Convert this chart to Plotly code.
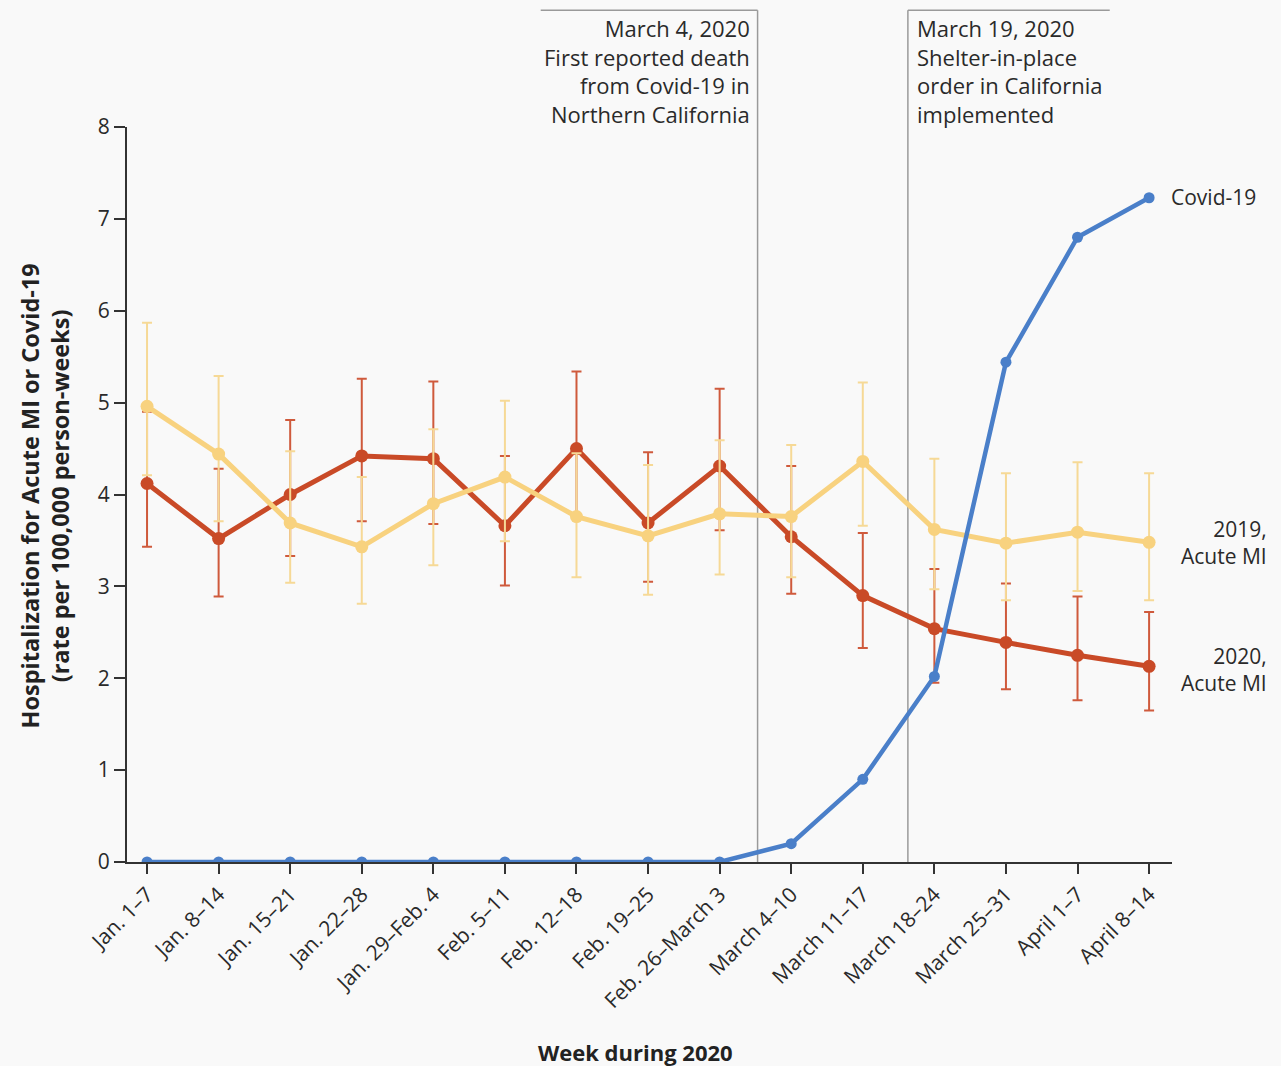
import plotly.graph_objects as go

weeks = ["Jan. 1–7", "Jan. 8–14", "Jan. 15–21", "Jan. 22–28", "Jan. 29–Feb. 4",
         "Feb. 5–11", "Feb. 12–18", "Feb. 19–25", "Feb. 26–March 3", "March 4–10",
         "March 11–17", "March 18–24", "March 25–31", "April 1–7", "April 8–14"]

covid_2020 = [0, 0, 0, 0, 0, 0, 0, 0, 0, 0.20, 0.90, 2.02, 5.44, 6.80, 7.23]

mi_2020 = [4.12, 3.52, 4.00, 4.42, 4.39, 3.66, 4.50, 3.69, 4.31, 3.54, 2.90, 2.54, 2.39, 2.25, 2.13]
mi_2020_upper = [4.90, 4.28, 4.81, 5.26, 5.23, 4.42, 5.34, 4.46, 5.15, 4.31, 3.58, 3.19, 3.03, 2.89, 2.72]
mi_2020_lower = [3.43, 2.89, 3.33, 3.71, 3.68, 3.01, 3.76, 3.05, 3.61, 2.92, 2.33, 1.95, 1.88, 1.76, 1.65]

mi_2019 = [4.96, 4.44, 3.69, 3.43, 3.90, 4.19, 3.76, 3.55, 3.79, 3.76, 4.36, 3.62, 3.47, 3.59, 3.48]
mi_2019_upper = [5.87, 5.29, 4.47, 4.19, 4.71, 5.02, 4.45, 4.32, 4.59, 4.54, 5.22, 4.39, 4.23, 4.35, 4.23]
mi_2019_lower = [4.21, 3.71, 3.04, 2.81, 3.23, 3.49, 3.10, 2.91, 3.13, 3.10, 3.66, 2.97, 2.85, 2.95, 2.85]

events = [
    {"x": 8.53, "box_from": 5.50, "side": "right",
     "text": "March 4, 2020<br>First reported death<br>from Covid-19 in<br>Northern California"},
    {"x": 10.63, "box_to": 13.45, "side": "left",
     "text": "March 19, 2020<br>Shelter-in-place<br>order in California<br>implemented"},
]

RED = "#c94a27"
RED_BAR = "#cf5a3c"
YELLOW = "#f8d27f"
YELLOW_BAR = "#f6d996"
BLUE = "#4a7fc9"
FONT = "'Open Sans', 'Noto Sans', sans-serif"
TXT = "#2a2a2a"
BG = "#f9f9f9"

idx = list(range(len(weeks)))

def err(values, upper, lower):
    plus = [round(u - v, 3) for u, v in zip(upper, values)]
    minus = [round(v - l, 3) for v, l in zip(values, lower)]
    return plus, minus

fig = go.Figure()

p20, m20 = err(mi_2020, mi_2020_upper, mi_2020_lower)
fig.add_trace(go.Scatter(
    x=idx, y=mi_2020, mode="lines+markers", name="2020, Acute MI",
    line=dict(color=RED, width=5), marker=dict(color=RED, size=13),
    error_y=dict(type="data", array=p20, arrayminus=m20, color=RED_BAR, thickness=2, width=5),
))

p19, m19 = err(mi_2019, mi_2019_upper, mi_2019_lower)
fig.add_trace(go.Scatter(
    x=idx, y=mi_2019, mode="lines+markers", name="2019, Acute MI",
    line=dict(color=YELLOW, width=5), marker=dict(color=YELLOW, size=13),
    error_y=dict(type="data", array=p19, arrayminus=m19, color=YELLOW_BAR, thickness=2, width=5),
))

fig.add_trace(go.Scatter(
    x=idx, y=covid_2020, mode="lines+markers", name="Covid-19",
    line=dict(color=BLUE, width=4.5), marker=dict(color=BLUE, size=11),
))

# event markers: vertical rule down to the axis and a bracket along the top
paper_top = 1.159
for ev in events:
    fig.add_shape(type="line", xref="x", yref="paper", x0=ev["x"], x1=ev["x"],
                  y0=0, y1=paper_top, line=dict(color="#9a9a9a", width=1.5), layer="below")
    if ev["side"] == "right":
        x0, x1 = ev["box_from"], ev["x"]
        xanchor, align, xshift = "right", "right", -6
    else:
        x0, x1 = ev["x"], ev["box_to"]
        xanchor, align, xshift = "left", "left", 7
    fig.add_shape(type="line", xref="x", yref="paper", x0=x0, x1=x1,
                  y0=paper_top, y1=paper_top, line=dict(color="#9a9a9a", width=1.5))
    fig.add_annotation(x=ev["x"], y=paper_top, xref="x", yref="paper", text=ev["text"],
                       showarrow=False, xanchor=xanchor, yanchor="top", align=align,
                       xshift=xshift, yshift=-1,
                       font=dict(family=FONT, size=22, color=TXT))

# series labels at the right end of the lines
last = len(weeks) - 1
fig.add_annotation(x=last, y=covid_2020[-1], xref="x", yref="y", text="Covid-19",
                   showarrow=False, xanchor="left", xshift=20, yshift=1,
                   font=dict(family=FONT, size=21, color=TXT))
fig.add_annotation(x=1.0, y=mi_2019[-1], xref="paper", yref="y", text="2019,<br>Acute MI",
                   showarrow=False, xanchor="right", align="right", xshift=97, yshift=0,
                   font=dict(family=FONT, size=21, color=TXT))
fig.add_annotation(x=1.0, y=mi_2020[-1], xref="paper", yref="y", text="2020,<br>Acute MI",
                   showarrow=False, xanchor="right", align="right", xshift=97, yshift=-3,
                   font=dict(family=FONT, size=21, color=TXT))

# y-axis title
fig.add_annotation(x=0, y=0.5, xref="paper", yref="paper", xanchor="center", yanchor="middle",
                   xshift=-82, yshift=-2, textangle=-90, showarrow=False,
                   text="<b>Hospitalization for Acute MI or Covid-19<br>(rate per 100,000 person-weeks)</b>",
                   font=dict(family=FONT, size=23.5, color="#222222"))

# x-axis title
fig.add_annotation(x=635, y=1052, xref="paper", yref="paper", showarrow=False,
                   text="<b>Week during 2020</b>",
                   font=dict(family=FONT, size=22, color="#222222"))

fig.update_layout(
    width=1281, height=1066,
    margin=dict(l=127, r=109, t=127, b=204),
    paper_bgcolor=BG, plot_bgcolor=BG,
    showlegend=False,
    font=dict(family=FONT, size=21, color=TXT),
    xaxis=dict(
        range=[-0.28, 14.32], tickmode="array", tickvals=idx, ticktext=weeks,
        tickangle=-45, ticks="outside", ticklen=10, tickwidth=1.5, tickcolor="#333333",
        showline=True, linecolor="#333333", linewidth=2, showgrid=False, zeroline=False,
        tickfont=dict(family=FONT, size=21, color=TXT),
    ),
    yaxis=dict(
        range=[0, 8], tickmode="array", tickvals=list(range(0, 9)),
        ticks="outside", ticklen=11, tickwidth=1.5, tickcolor="#333333",
        showline=True, linecolor="#333333", linewidth=2, showgrid=False, zeroline=False,
        tickfont=dict(family=FONT, size=21, color=TXT),
    ),
)

# place the x-axis title annotation in pixel terms
plot_w = 1281 - 127 - 109
plot_h = 1066 - 127 - 204
fig.layout.annotations[-1].update(x=(635 - 127) / plot_w, y=(862 - 1052) / plot_h,
                                  xanchor="center", yanchor="middle")

fig.write_html("out.html")
